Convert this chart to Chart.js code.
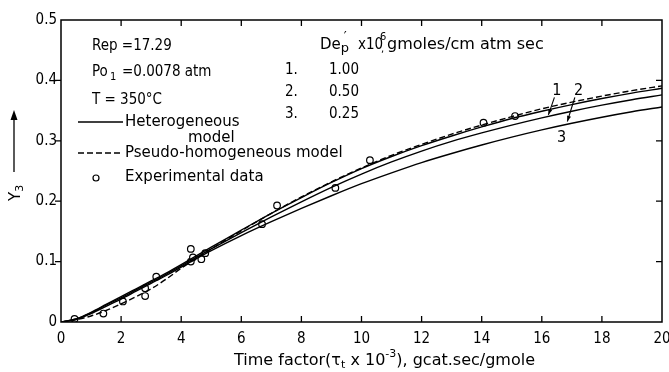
<!DOCTYPE html>
<html><head><meta charset="utf-8">
<script src="https://cdn.jsdelivr.net/npm/chart.js@4/dist/chart.umd.min.js"></script>
<style>html,body{margin:0;padding:0;background:#fff}#wrap{width:669px;height:372px;position:relative}</style>
</head><body><div id="wrap"><canvas id="c" width="669" height="372"></canvas></div>
<script>
const NUM = "'DejaVu Sans Condensed','Liberation Sans Narrow',sans-serif";
const TXT = "'DejaVu Sans','Liberation Sans',sans-serif";

// time factor (tau_t x 10^-3)
const timeFactor = [0,0.5,1,1.5,2,2.5,3,3.5,4,5,6,7,8,9,10,11,12,13,14,15,16,17,18,19,20];
// Heterogeneous model, Dep' = 1.00, 0.50, 0.25
const hetero1 = [0,0.005,0.016,0.029,0.042,0.055,0.068,0.081,0.095,0.124,0.152,0.180,0.206,0.231,0.254,0.274,0.292,0.308,0.323,0.337,0.349,0.360,0.370,0.379,0.387];
const hetero2 = [0,0.005,0.015,0.028,0.040,0.053,0.066,0.079,0.093,0.121,0.148,0.174,0.199,0.223,0.245,0.265,0.283,0.299,0.313,0.326,0.338,0.349,0.359,0.368,0.376];
const hetero3 = [0,0.004,0.014,0.026,0.038,0.051,0.064,0.077,0.091,0.118,0.143,0.166,0.188,0.209,0.229,0.247,0.264,0.279,0.293,0.306,0.318,0.329,0.339,0.348,0.356];
// Pseudo-homogeneous model
const pseudo = [0,0.004,0.010,0.019,0.030,0.042,0.055,0.071,0.089,0.121,0.151,0.180,0.207,0.232,0.255,0.276,0.294,0.311,0.326,0.340,0.353,0.364,0.374,0.383,0.391];
// Experimental data
const expX = [0.45,1.41,2.06,2.80,2.80,3.17,4.32,4.32,4.39,4.67,4.80,6.69,7.19,9.13,10.28,14.06,15.11];
const expY = [0.005,0.014,0.034,0.056,0.043,0.075,0.121,0.100,0.107,0.104,0.114,0.162,0.193,0.222,0.268,0.330,0.341];
// ticks
const xTicks = [0,2,4,6,8,10,12,14,16,18,20];
const yTicks = [0,0.1,0.2,0.3,0.4,0.5];

const pts = (xs, ys) => xs.map((x, i) => ({x, y: ys[i]}));
const lineDs = (ys, dash) => ({
  data: pts(timeFactor, ys), borderColor: '#000', borderWidth: 1.4, borderDash: dash || [],
  pointRadius: 0, fill: false, cubicInterpolationMode: 'monotone', showLine: true
});

const deco = {
  id: 'deco',
  afterDraw(chart) {
    const {ctx, chartArea: a, scales: {x, y}} = chart;
    const f = (sz, fam) => { ctx.font = sz + 'px ' + (fam || TXT); };
    ctx.save();
    ctx.strokeStyle = '#000'; ctx.fillStyle = '#000';
    ctx.lineWidth = 1.5;
    ctx.strokeRect(a.left, a.top, a.right - a.left, a.bottom - a.top);
    ctx.lineWidth = 1.3;
    ctx.beginPath();
    xTicks.slice(1, -1).forEach(v => {
      const px = x.getPixelForValue(v);
      ctx.moveTo(px, a.bottom); ctx.lineTo(px, a.bottom - 6);
      ctx.moveTo(px, a.top); ctx.lineTo(px, a.top + 6);
    });
    yTicks.slice(1, -1).forEach(v => {
      const py = y.getPixelForValue(v);
      ctx.moveTo(a.left - 6, py); ctx.lineTo(a.left, py);
      ctx.moveTo(a.right, py); ctx.lineTo(a.right - 6, py);
    });
    ctx.stroke();

    ctx.textBaseline = 'middle';
    ctx.textAlign = 'left';
    // parameters
    f(15, NUM); ctx.fillText('Rep =17.29', 92, 46);
    f(15, NUM); ctx.fillText('Po', 92, 72);
    f(11, NUM); ctx.fillText('1', 110, 77);
    f(15, NUM); ctx.fillText('=0.0078 atm', 122, 72);
    f(15, NUM); ctx.fillText('T = 350\u00B0C', 92, 100);
    // legend
    f(15);
    ctx.lineWidth = 1.4;
    ctx.beginPath(); ctx.moveTo(78, 122); ctx.lineTo(123, 122); ctx.stroke();
    ctx.fillText('Heterogeneous', 125, 122);
    ctx.fillText('model', 188, 138);
    ctx.setLineDash([6, 3]);
    ctx.beginPath(); ctx.moveTo(78, 153); ctx.lineTo(123, 153); ctx.stroke();
    ctx.setLineDash([]);
    ctx.fillText('Pseudo-homogeneous model', 125, 153);
    ctx.beginPath(); ctx.arc(96, 178, 3, 0, 2 * Math.PI); ctx.lineWidth = 1.2; ctx.stroke();
    ctx.fillText('Experimental data', 125, 177);
    // Dep' table
    f(15); ctx.fillText('De', 320, 45);
    const w = ctx.measureText('De').width;
    f(13); ctx.fillText('p', 320 + w, 49); ctx.fillText('\u2032', 320 + w + 3, 37);
    f(15, NUM); ctx.fillText('x10', 358, 45);
    f(11, NUM); ctx.fillText('6', 380, 37); ctx.fillText(',', 381, 49);
    f(16); ctx.fillText('gmoles/cm atm sec', 387, 45);
    f(15, NUM);
    [['1.', '1.00'], ['2.', '0.50'], ['3.', '0.25']].forEach((r, i) => {
      const yy = 70 + i * 22;
      ctx.fillText(r[0], 285, yy);
      ctx.fillText(r[1], 329, yy);
    });
    // curve labels
    const lab = (t, vx, vy) => ctx.fillText(t, x.getPixelForValue(vx), y.getPixelForValue(vy));
    ctx.textAlign = 'center';
    f(16, NUM);
    lab('1', 16.5, 0.383);
    lab('2', 17.22, 0.383);
    lab('3', 16.66, 0.305);
    const arrow = (x0, y0, x1, y1) => {
      const p0 = [x.getPixelForValue(x0), y.getPixelForValue(y0)];
      const p1 = [x.getPixelForValue(x1), y.getPixelForValue(y1)];
      ctx.lineWidth = 1.1;
      ctx.beginPath(); ctx.moveTo(p0[0], p0[1]); ctx.lineTo(p1[0], p1[1]); ctx.stroke();
      const ang = Math.atan2(p1[1] - p0[1], p1[0] - p0[0]);
      ctx.beginPath();
      ctx.moveTo(p1[0], p1[1]);
      ctx.lineTo(p1[0] - 6 * Math.cos(ang - 0.35), p1[1] - 6 * Math.sin(ang - 0.35));
      ctx.lineTo(p1[0] - 6 * Math.cos(ang + 0.35), p1[1] - 6 * Math.sin(ang + 0.35));
      ctx.closePath(); ctx.fill();
    };
    arrow(16.42, 0.372, 16.22, 0.343);
    arrow(17.1, 0.372, 16.85, 0.332);

    // x-axis title
    ctx.textAlign = 'left';
    let sx = 234;
    const put = (t, sz, dy) => { f(sz); ctx.fillText(t, sx, 361 + (dy || 0)); sx += ctx.measureText(t).width; };
    put('Time factor(\u03C4', 16); put('t', 11, 4); put(' x 10', 16); put('-3', 11, -7); put('), gcat.sec/gmole', 16);

    // y-axis title rotated
    ctx.save();
    ctx.translate(20, 201);
    ctx.rotate(-Math.PI / 2);
    ctx.textBaseline = 'alphabetic';
    f(15);
    ctx.fillText('Y', 0, 0);
    const yw = ctx.measureText('Y').width;
    f(11);
    ctx.fillText('3', yw, 3);
    ctx.restore();
    ctx.lineWidth = 1.3;
    ctx.beginPath(); ctx.moveTo(14, 172); ctx.lineTo(14, 118); ctx.stroke();
    ctx.beginPath(); ctx.moveTo(14, 110); ctx.lineTo(10.5, 120); ctx.lineTo(17.5, 120); ctx.closePath(); ctx.fill();
    ctx.restore();
  }
};

new Chart(document.getElementById('c'), {
  type: 'line',
  data: {
    datasets: [
      lineDs(hetero1), lineDs(hetero2), lineDs(hetero3), lineDs(pseudo, [6, 3]),
      { data: pts(expX, expY), showLine: false, pointRadius: 3.3, pointBorderWidth: 1.2,
        pointBackgroundColor: '#fff', pointBorderColor: '#000', borderColor: '#000' }
    ]
  },
  options: {
    responsive: false, animation: false, devicePixelRatio: 1,
    layout: { padding: { left: 0, right: 7, top: 20, bottom: 0 } },
    plugins: { legend: { display: false }, tooltip: { enabled: false } },
    scales: {
      x: {
        type: 'linear', min: 0, max: 20,
        afterBuildTicks: s => { s.ticks = xTicks.map(v => ({value: v})); },
        afterFit: s => { s.height = 50; s.paddingRight = 0; s.paddingLeft = 0; },
        grid: { display: false, drawTicks: false }, border: { display: false },
        ticks: { color: '#000', font: { family: NUM, size: 15 }, padding: 8, maxRotation: 0, autoSkip: false }
      },
      y: {
        type: 'linear', min: 0, max: 0.5,
        afterBuildTicks: s => { s.ticks = yTicks.map(v => ({value: v})); },
        afterFit: s => { s.width = 61; s.paddingTop = 0; s.paddingBottom = 0; },
        grid: { display: false, drawTicks: false }, border: { display: false },
        ticks: { color: '#000', font: { family: NUM, size: 15 }, padding: 4 }
      }
    }
  },
  plugins: [deco]
});
</script>
</body></html>
